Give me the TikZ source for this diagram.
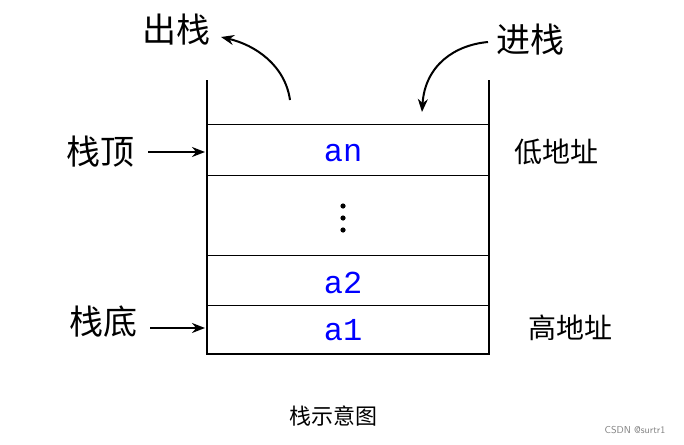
\documentclass[tikz,border=0pt]{standalone}
\usepackage{fontspec}
\newfontfamily\cjk{Noto Sans CJK SC}
\newfontfamily\mono{Liberation Mono}
\usetikzlibrary{arrows.meta}
\begin{document}
\begin{tikzpicture}[x=1pt,y=-1pt,
  lab/.style={font=\cjk\fontsize{34}{34}\selectfont},
  sm/.style={font=\cjk\fontsize{28}{28}\selectfont},
  cell/.style={font=\mono\fontsize{32}{32}\selectfont,text=blue},
  arr/.style={-{Stealth[length=13pt,width=10pt]},line width=2pt}]
\useasboundingbox (0,0) rectangle (684,444);
\fill[white] (0,0) rectangle (684,444);
\draw[line width=1.3pt] (207,80) -- (207,354) -- (489,354) -- (489,80);
\foreach \y in {124,175,255,305} \draw[line width=1pt] (207,\y) -- (489,\y);
\node[lab] (out) at (176,30) {出栈};
\node[lab] (in) at (530,40) {进栈};
\node[lab] (top) at (100,152) {栈顶};
\node[lab] (bot) at (103,322) {栈底};
\node[sm] (low) at (556,152) {低地址};
\node[sm] (high) at (570,328) {高地址};
\node[cell] (an) at (343,153) {an};
\node[inner sep=0pt,minimum size=30pt] (dots) at (343,218) {};
\foreach \d in {-12,0,12} \fill (343,218+\d) circle (2.6pt);
\node[cell] (a2) at (343,283) {a2};
\node[cell] (a1) at (343,330) {a1};
\node[font=\cjk\fontsize{22}{22}\selectfont] (cap) at (333,416) {栈示意图};
\node[font=\fontsize{10}{10}\selectfont\sffamily,text=gray] (wm) at (635,430) {CSDN @surtr1};
\coordinate (tA) at (205,152); \coordinate (bA) at (205,328);
\coordinate (tS) at (148,152); \coordinate (bS) at (150,328);
\draw[arr] (tS) -- (tA);
\draw[arr] (bS) -- (bA);
\coordinate (o1) at (290,100); \coordinate (o2) at (221,37);
\draw[arr] (o1) .. controls (285,65) and (255,45) .. (o2);
\coordinate (i1) at (488,42); \coordinate (i2) at (422,112);
\draw[arr] (i1) .. controls (455,45) and (425,65) .. (i2);
\end{tikzpicture}
\end{document}
